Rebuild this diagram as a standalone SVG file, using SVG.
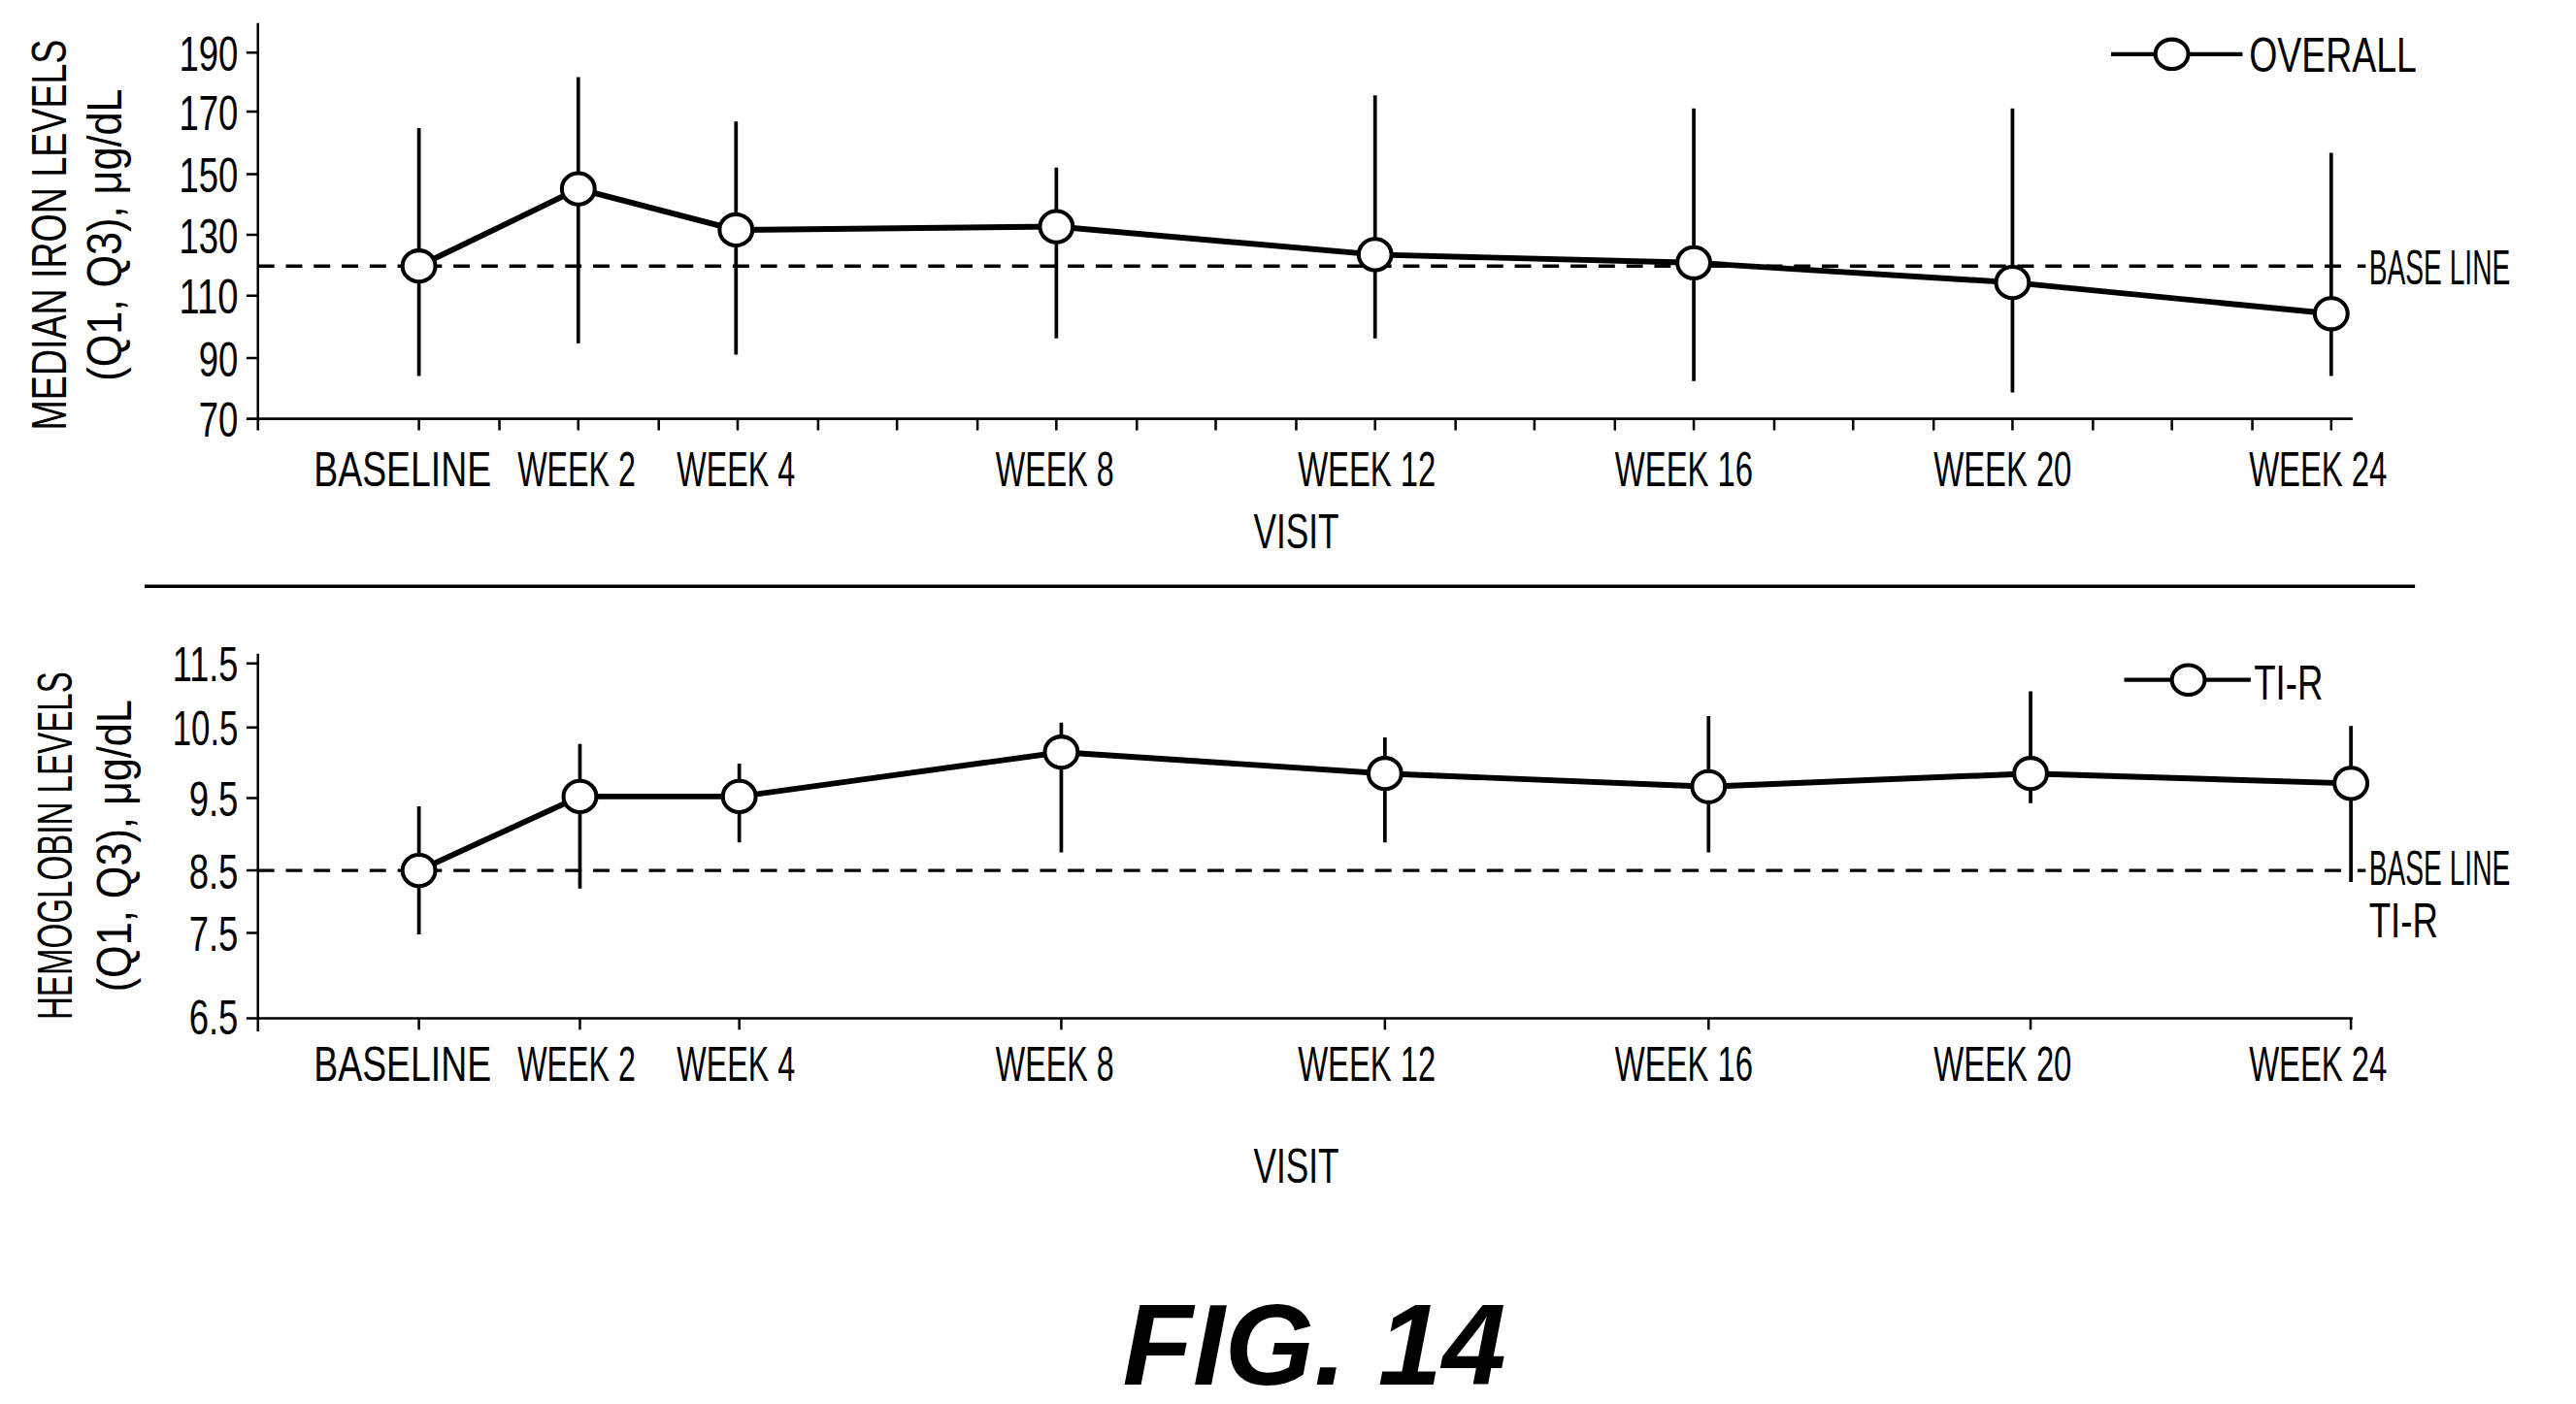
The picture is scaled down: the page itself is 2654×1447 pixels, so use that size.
<svg xmlns="http://www.w3.org/2000/svg" width="2654" height="1447" viewBox="0 0 2654 1447">
<style>
.t{font-family:"Liberation Sans",Arial,sans-serif;font-size:30px;fill:#000}
.ax{stroke:#000;stroke-width:1.5;fill:none}
.dl{stroke:#000;stroke-width:3.5;fill:none}
.eb{stroke:#000;stroke-width:2.2}
.dash{stroke:#000;stroke-width:2;stroke-dasharray:10,7;fill:none}
.pt{fill:#fff;stroke:#000;stroke-width:2.4}
</style>
<rect width="2654" height="1447" fill="#fff"/>
<g transform="scale(1.6926)">
<g id="top-chart">
<path class="ax" d="M157,14V262M150,255H1432M150,32H157M150,68H157M150,106H157M150,143H157M150,180H157M150,218H157"/>
<path class="ax" d="M255,255v7M304,255v7M352,255v7M401,255v7M449,255v7M498,255v7M546,255v7M595,255v7M643,255v7M692,255v7M740,255v7M789,255v7M837,255v7M886,255v7M934,255v7M983,255v7M1031,255v7M1080,255v7M1128,255v7M1177,255v7M1225,255v7M1274,255v7M1322,255v7M1371,255v7M1419,255v7"/>
<g class="t" text-anchor="end">
<text x="145" y="43" textLength="36" lengthAdjust="spacingAndGlyphs">190</text>
<text x="145" y="79" textLength="36" lengthAdjust="spacingAndGlyphs">170</text>
<text x="145" y="117" textLength="36" lengthAdjust="spacingAndGlyphs">150</text>
<text x="145" y="154" textLength="36" lengthAdjust="spacingAndGlyphs">130</text>
<text x="145" y="191" textLength="36" lengthAdjust="spacingAndGlyphs">110</text>
<text x="145" y="229" textLength="24" lengthAdjust="spacingAndGlyphs">90</text>
<text x="145" y="266" textLength="24" lengthAdjust="spacingAndGlyphs">70</text>
</g>
<g class="t" text-anchor="middle">
<text x="30" y="143" transform="rotate(-90 30 143)" dy="10" textLength="238" lengthAdjust="spacingAndGlyphs">MEDIAN IRON LEVELS</text>
<text x="64" y="143" transform="rotate(-90 64 143)" dy="10" textLength="178" lengthAdjust="spacingAndGlyphs">(Q1, Q3), μg/dL</text>
<text x="245" y="296" textLength="108" lengthAdjust="spacingAndGlyphs">BASELINE</text>
<text x="351" y="296" textLength="72" lengthAdjust="spacingAndGlyphs">WEEK 2</text>
<text x="448" y="296" textLength="72" lengthAdjust="spacingAndGlyphs">WEEK 4</text>
<text x="642" y="296" textLength="72" lengthAdjust="spacingAndGlyphs">WEEK 8</text>
<text x="832" y="296" textLength="84" lengthAdjust="spacingAndGlyphs">WEEK 12</text>
<text x="1025" y="296" textLength="84" lengthAdjust="spacingAndGlyphs">WEEK 16</text>
<text x="1219" y="296" textLength="84" lengthAdjust="spacingAndGlyphs">WEEK 20</text>
<text x="1411" y="296" textLength="84" lengthAdjust="spacingAndGlyphs">WEEK 24</text>
<text x="789" y="334" textLength="52" lengthAdjust="spacingAndGlyphs">VISIT</text>
</g>
<path class="dash" d="M157,162H1432M1435,162h5"/>
<text class="t" x="1442" y="173" textLength="86" lengthAdjust="spacingAndGlyphs">BASE LINE</text>
<path class="eb" d="M255,78V229M352,47V209M448,74V216M643,102V206M837,58V206M1031,66V232M1225,66V239M1419,93V229"/>
<polyline class="dl" points="255,162 352,115 448,140 643,138 837,155 1031,160 1225,172 1419,191"/>
<g class="pt">
<ellipse cx="255" cy="162" rx="10" ry="9.5"/><ellipse cx="352" cy="115" rx="10" ry="9.5"/><ellipse cx="448" cy="140" rx="10" ry="9.5"/><ellipse cx="643" cy="138" rx="10" ry="9.5"/><ellipse cx="837" cy="155" rx="10" ry="9.5"/><ellipse cx="1031" cy="160" rx="10" ry="9.5"/><ellipse cx="1225" cy="172" rx="10" ry="9.5"/><ellipse cx="1419" cy="191" rx="10" ry="9.5"/>
</g>
<path d="M1285,33H1365" stroke="#000" stroke-width="2.5"/>
<ellipse class="pt" cx="1322" cy="33" rx="10" ry="9"/>
<text class="t" x="1369" y="44" textLength="102" lengthAdjust="spacingAndGlyphs">OVERALL</text>
</g>
<path d="M88,357H1470" stroke="#000" stroke-width="2"/>
<g id="bottom-chart">
<path class="ax" d="M157,398V628M150,620H1432M150,404H157M150,443H157M150,486H157M150,530H157M150,568H157"/>
<path class="ax" d="M255,620v7M353,620v7M450,620v7M646,620v7M843,620v7M1040,620v7M1236,620v7M1431,620v7"/>
<g class="t" text-anchor="end">
<text x="145" y="415" textLength="40" lengthAdjust="spacingAndGlyphs">11.5</text>
<text x="145" y="454" textLength="40" lengthAdjust="spacingAndGlyphs">10.5</text>
<text x="145" y="497" textLength="30" lengthAdjust="spacingAndGlyphs">9.5</text>
<text x="145" y="541" textLength="30" lengthAdjust="spacingAndGlyphs">8.5</text>
<text x="145" y="579" textLength="30" lengthAdjust="spacingAndGlyphs">7.5</text>
<text x="145" y="630" textLength="30" lengthAdjust="spacingAndGlyphs">6.5</text>
</g>
<g class="t" text-anchor="middle">
<text x="34" y="515" transform="rotate(-90 34 515)" dy="10" textLength="212" lengthAdjust="spacingAndGlyphs">HEMOGLOBIN LEVELS</text>
<text x="70" y="515" transform="rotate(-90 70 515)" dy="10" textLength="178" lengthAdjust="spacingAndGlyphs">(Q1, Q3), μg/dL</text>
<text x="245" y="658" textLength="108" lengthAdjust="spacingAndGlyphs">BASELINE</text>
<text x="351" y="658" textLength="72" lengthAdjust="spacingAndGlyphs">WEEK 2</text>
<text x="448" y="658" textLength="72" lengthAdjust="spacingAndGlyphs">WEEK 4</text>
<text x="642" y="658" textLength="72" lengthAdjust="spacingAndGlyphs">WEEK 8</text>
<text x="832" y="658" textLength="84" lengthAdjust="spacingAndGlyphs">WEEK 12</text>
<text x="1025" y="658" textLength="84" lengthAdjust="spacingAndGlyphs">WEEK 16</text>
<text x="1219" y="658" textLength="84" lengthAdjust="spacingAndGlyphs">WEEK 20</text>
<text x="1411" y="658" textLength="84" lengthAdjust="spacingAndGlyphs">WEEK 24</text>
<text x="789" y="720" textLength="52" lengthAdjust="spacingAndGlyphs">VISIT</text>
</g>
<path class="dash" d="M157,530H1432M1435,530h5"/>
<text class="t" x="1442" y="539" textLength="86" lengthAdjust="spacingAndGlyphs">BASE LINE</text>
<text class="t" x="1442" y="571" textLength="42" lengthAdjust="spacingAndGlyphs">TI-R</text>
<path class="eb" d="M255,491V569M353,453V541M450,465V513M646,440V519M843,449V513M1040,436V519M1236,421V489M1431,442V537"/>
<polyline class="dl" points="255,530 353,485 450,485 646,458 843,471 1040,479 1236,471 1431,477"/>
<g class="pt">
<ellipse cx="255" cy="530" rx="10" ry="9.5"/><ellipse cx="353" cy="485" rx="10" ry="9.5"/><ellipse cx="450" cy="485" rx="10" ry="9.5"/><ellipse cx="646" cy="458" rx="10" ry="9.5"/><ellipse cx="843" cy="471" rx="10" ry="9.5"/><ellipse cx="1040" cy="479" rx="10" ry="9.5"/><ellipse cx="1236" cy="471" rx="10" ry="9.5"/><ellipse cx="1431" cy="477" rx="10" ry="9.5"/>
</g>
<path d="M1293,414H1370" stroke="#000" stroke-width="2.5"/>
<ellipse class="pt" cx="1332" cy="414" rx="10" ry="9"/>
<text class="t" x="1372" y="426" textLength="42" lengthAdjust="spacingAndGlyphs">TI-R</text>
</g>
<text x="800" y="843" text-anchor="middle" font-family="Liberation Sans, Arial, sans-serif" font-size="70" font-weight="bold" font-style="italic">FIG. 14</text>
</g>
</svg>
